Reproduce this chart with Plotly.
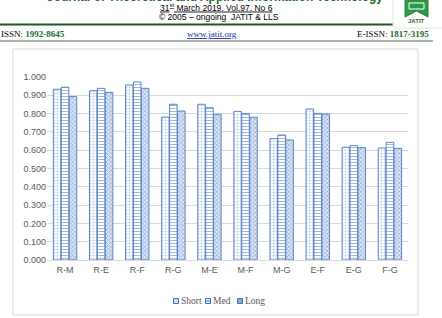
import plotly.graph_objects as go

categories = ["R-M", "R-E", "R-F", "R-G", "M-E", "M-F", "M-G", "E-F", "E-G", "F-G"]
short_vals = [0.933, 0.925, 0.956, 0.781, 0.851, 0.812, 0.663, 0.825, 0.616, 0.612]
med_vals = [0.944, 0.938, 0.973, 0.851, 0.832, 0.800, 0.683, 0.801, 0.625, 0.643]
long_vals = [0.893, 0.916, 0.938, 0.814, 0.796, 0.780, 0.656, 0.798, 0.614, 0.610]
series_names = ["Short", "Med", "Long"]

W, H = 442, 318
L, R, T, B = 47, 408, 77, 260


def px(x):
    return (x - L) / (R - L)


def py(y):
    return (B - y) / (B - T)


blue = "#4472C4"
fig = go.Figure()
patterns = [
    dict(shape=".", fgcolor="#7F9FD6", bgcolor="white", size=3, solidity=0.35),
    dict(shape="-", fgcolor=blue, bgcolor="white", size=3, solidity=0.35),
    dict(shape="x", fgcolor=blue, bgcolor="#DCE5F4", size=3, solidity=0.4),
]
for name, vals, pat in zip(series_names, [short_vals, med_vals, long_vals], patterns):
    fig.add_trace(go.Bar(
        x=categories, y=vals, name=name, showlegend=False,
        marker=dict(color="white", line=dict(color="#5B82C8", width=1), pattern=pat),
    ))

tickfont = dict(family="Liberation Sans", size=9, color="#595959")
fig.update_layout(
    width=W, height=H,
    margin=dict(l=L, r=W - R, t=T, b=H - B, autoexpand=False),
    paper_bgcolor="white", plot_bgcolor="white",
    barmode="group", bargap=0.34, bargroupgap=0.05,
    showlegend=False,
    xaxis=dict(tickfont=tickfont, showgrid=False, showline=False, ticks="", fixedrange=True,
               ticklabelstandoff=3),
    yaxis=dict(range=[0, 1.0], dtick=0.1, tickformat=".3f", tickfont=tickfont,
               showgrid=True, gridcolor="#D9D9D9", gridwidth=1, zeroline=True,
               zerolinecolor="#D9D9D9", zerolinewidth=1, ticks="", showline=False),
)

shapes = []
# chart border box
shapes.append(dict(type="rect", xref="paper", yref="paper", x0=px(13), x1=px(418), y0=py(315), y1=py(49),
                   line=dict(color="#D9D9D9", width=1), fillcolor="rgba(0,0,0,0)", layer="below"))
# header lines
shapes.append(dict(type="line", xref="paper", yref="paper", x0=px(0), x1=px(393), y0=py(24.5), y1=py(24.5),
                   line=dict(color="#1E5A2A", width=2)))
shapes.append(dict(type="line", xref="paper", yref="paper", x0=px(0), x1=px(433), y0=py(41), y1=py(41),
                   line=dict(color="#8A9A8E", width=1.5)))
# logo frame
shapes.append(dict(type="line", xref="paper", yref="paper", x0=px(393), x1=px(393), y0=py(-2), y1=py(28),
                   line=dict(color="#E2E2E2", width=1)))
shapes.append(dict(type="line", xref="paper", yref="paper", x0=px(393), x1=px(442), y0=py(28), y1=py(28),
                   line=dict(color="#E2E2E2", width=1)))
shapes.append(dict(type="path", xref="paper", yref="paper",
                   path=f"M {px(405)},{py(0)} L {px(428)},{py(0)} L {px(428)},{py(17)} L {px(416.5)},{py(11)} L {px(405)},{py(17)} Z",
                   line=dict(color="#1F8A3A", width=1), fillcolor="#2E9A48"))
shapes.append(dict(type="path", xref="paper", yref="paper",
                   path=f"M {px(409)},{py(3)} L {px(424)},{py(3)} L {px(424)},{py(9)} L {px(409)},{py(9)} Z",
                   line=dict(color="white", width=1), fillcolor="rgba(0,0,0,0)"))

# legend keys (small squares)
key_x = [173.5, 205.5, 237.5]
key_fill = ["#D3DDF0", "#EEF2FA", "#8FA9DB"]
for kx, kf in zip(key_x, key_fill):
    shapes.append(dict(type="rect", xref="paper", yref="paper", x0=px(kx), x1=px(kx + 5),
                       y0=py(303.5), y1=py(298.5), line=dict(color=blue, width=1), fillcolor=kf))
shapes.append(dict(type="line", xref="paper", yref="paper", x0=px(key_x[1]), x1=px(key_x[1] + 5),
                   y0=py(301), y1=py(301), line=dict(color=blue, width=1)))
fig.update_layout(shapes=shapes)

ann = []
def A(text, x, y, size, color="black", family="Liberation Sans", xanchor="center"):
    ann.append(dict(text=text, x=px(x), y=py(y), xref="paper", yref="paper", showarrow=False,
                    xanchor=xanchor, yanchor="middle", font=dict(family=family, size=size, color=color)))

A("<b>Journal of Theoretical and Applied Information Technology</b>", 215, -3, 12, "#1E6B2E")
A("<u>31<sup>st</sup> March 2019. Vol.97. No 6</u>", 216, 7, 8.5)
A("© 2005 – ongoing  JATIT &amp; LLS", 219, 17, 8.5)
A("ISSN: <b><span style='color:#1E6B2E'>1992-8645</span></b>", -1, 34, 9, "black", "Liberation Serif", "left")
A("<u>www.jatit.org</u>", 212, 34, 9, "#2233AA", "Liberation Serif")
A("E-ISSN: <b><span style='color:#1E6B2E'>1817-3195</span></b>", 431, 34, 9, "black", "Liberation Serif", "right")
A("<b>JATIT</b>", 416.5, 21, 6, "#1E6B2E")
for name, kx in zip(series_names, key_x):
    A(name, kx + 5.5, 301, 9.5, "#595959", "Liberation Serif", "left")
fig.update_layout(annotations=ann)

fig.write_html("out.html")
